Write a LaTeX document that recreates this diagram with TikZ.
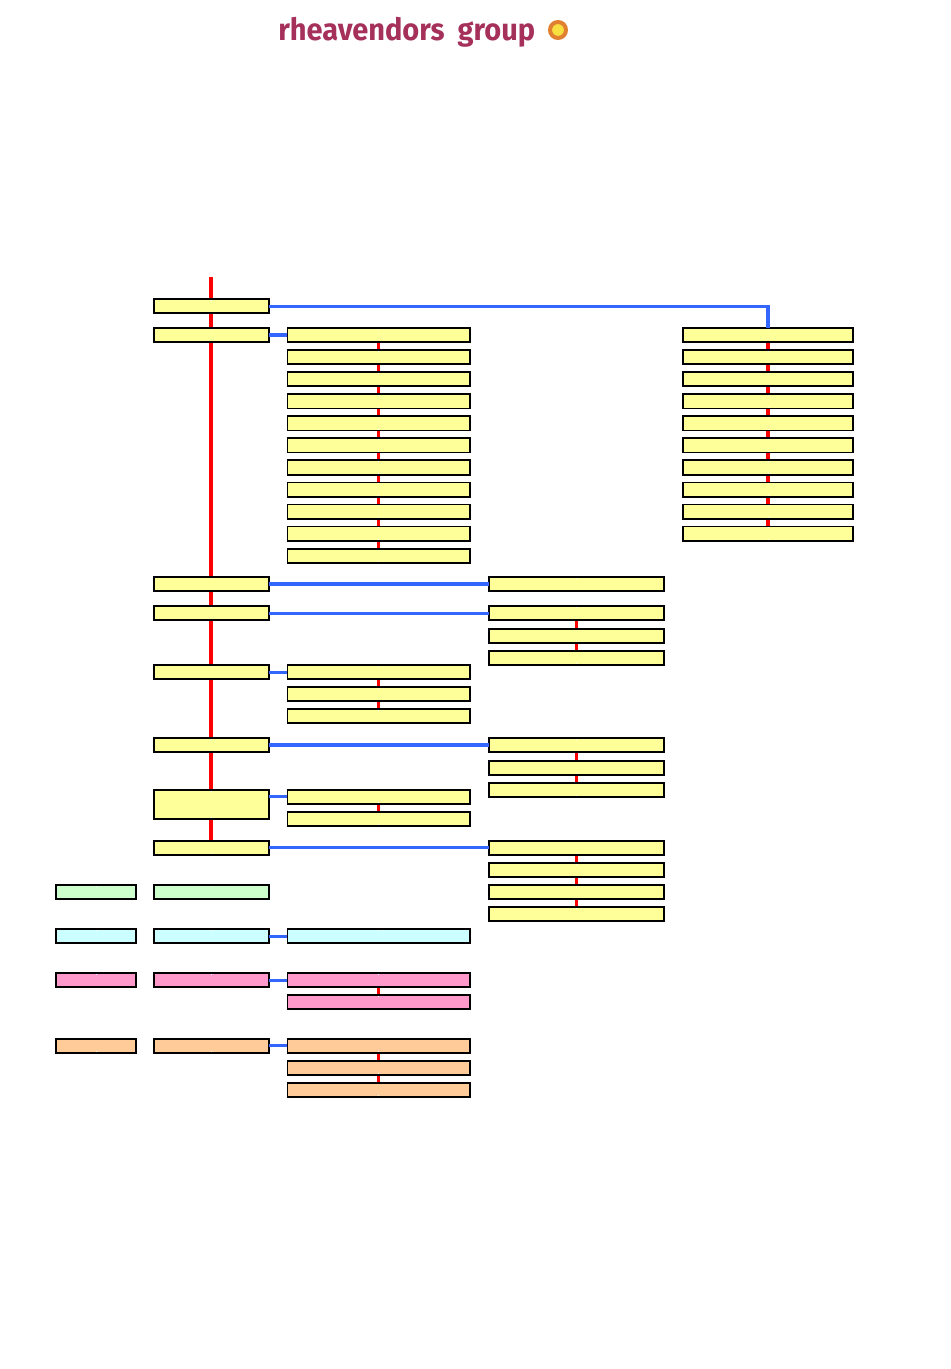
\documentclass[tikz,border=0pt]{standalone}
\usepackage{fontspec}
\setmainfont{Fira Sans}
\usetikzlibrary{backgrounds}
\definecolor{boxy}{HTML}{FFFF99}
\definecolor{boxg}{HTML}{CCFFCC}
\definecolor{boxc}{HTML}{CCFFFF}
\definecolor{boxp}{HTML}{FF99CC}
\definecolor{boxo}{HTML}{FFCC99}
\definecolor{linkblue}{HTML}{3366FF}
\definecolor{logored}{HTML}{A5305A}
\definecolor{ringo}{HTML}{E08030}
\definecolor{ringy}{HTML}{F8E040}
\tikzset{
  x=0.75pt,y=-0.75pt,
  box/.style={draw=black,line width=1.4pt,inner sep=0pt,outer sep=0pt,minimum height=10.65pt,
    path picture={\draw[white,line width=0.6pt]
      (path picture bounding box.north) -- ++(0,-1.2pt)
      (path picture bounding box.south) -- ++(0,1.2pt);}},
  colA/.style={box,minimum width=85.9pt},
  colB/.style={box,minimum width=136.9pt},
  colC/.style={box,minimum width=130.9pt},
  colD/.style={box,minimum width=127.5pt},
  colL/.style={box,minimum width=60pt},
  trunk/.style={draw=red,line width=3pt},
  twig/.style={draw=red,line width=2.6pt},
  link/.style={draw=linkblue,line width=2.2pt},
  linkthick/.style={draw=linkblue,line width=2.8pt},
}
\begin{document}
\begin{tikzpicture}
\useasboundingbox (0,0) rectangle (950,1369);
% logo
\node[inner sep=0pt,anchor=base west,text=logored,font=\bfseries\fontsize{23}{23}\selectfont,xscale=0.945] (logo) at (278,41) {rheavendors\hspace{4.8pt} group};
\node[circle,draw=ringo,fill=ringy,line width=3pt,minimum size=12pt,inner sep=0pt] (sun) at (558,30) {};
% column A
\foreach \n/\y in {a1/306.2,a2/335.2,a3/584.2,a4/613.2,a5/672.2,a6/745.2,a8/847.7}
  \node[colA,fill=boxy] (\n) at (211.3,\y) {};
\node[colA,fill=boxy,minimum height=21.4pt] (a7) at (211.3,804.3) {};
\node[colA,fill=boxg] (a9) at (211.3,892.2) {};
\node[colA,fill=boxc] (a10) at (211.3,936.2) {};
\node[colA,fill=boxp] (a11) at (211.3,980.2) {};
\node[colA,fill=boxo] (a12) at (211.3,1045.7) {};
% left column
\node[colL,fill=boxg] (l1) at (96,892.2) {};
\node[colL,fill=boxc] (l2) at (96,936.2) {};
\node[colL,fill=boxp] (l3) at (96,980.2) {};
\node[colL,fill=boxo] (l4) at (96,1045.7) {};
% column B
\foreach \i in {0,...,10} \node[colB,fill=boxy] (b\i) at (378.7,335.2+22.05*\i) {};
\node[colB,fill=boxy] (b11) at (378.7,672.2) {};
\node[colB,fill=boxy] (b12) at (378.7,694.2) {};
\node[colB,fill=boxy] (b13) at (378.7,716.2) {};
\node[colB,fill=boxy] (b14) at (378.7,796.7) {};
\node[colB,fill=boxy] (b15) at (378.7,818.7) {};
\node[colB,fill=boxc] (b16) at (378.7,936.2) {};
\node[colB,fill=boxp] (b17) at (378.7,980.2) {};
\node[colB,fill=boxp] (b18) at (378.7,1002.2) {};
\node[colB,fill=boxo] (b19) at (378.7,1045.7) {};
\node[colB,fill=boxo] (b20) at (378.7,1067.7) {};
\node[colB,fill=boxo] (b21) at (378.7,1089.7) {};
% column C
\foreach \n/\y in {c1/584.2,c2/613.2,c3/635.7,c4/657.7,c5/745.2,c6/767.7,c7/789.7,c8/847.7,c9/870.2,c10/892.2,c11/914.2}
  \node[colC,fill=boxy] (\n) at (576.5,\y) {};
% column D
\foreach \i in {0,...,9} \node[colD,fill=boxy] (d\i) at (768,335.2+22.05*\i) {};
\coordinate (top) at (211.3,277);
\begin{scope}[on background layer]
  % main red line
  \draw[trunk] (top) -- (a1);
  \foreach \p/\q in {a1/a2,a2/a3,a3/a4,a4/a5,a5/a6,a6/a7,a7/a8} \draw[trunk] (\p) -- (\q);
  % short red links
  \foreach \i [evaluate=\i as \j using int(\i+1)] in {0,...,9} {
    \draw[twig] (b\i) -- (b\j);
  }
  \foreach \i [evaluate=\i as \j using int(\i+1)] in {0,...,8} {
    \draw[twig] (d\i) -- (d\j);
  }
  \foreach \p/\q in {b11/b12,b12/b13,b14/b15,b17/b18,b19/b20,b20/b21,c2/c3,c3/c4,c5/c6,c6/c7,c8/c9,c9/c10,c10/c11}
    \draw[twig] (\p) -- (\q);
\end{scope}
% blue links
\draw[link,line width=2.5pt] (a1.east) -| (d0.north);
\draw[linkthick] (a2.east) -- (b0.west);
\draw[linkthick] (a3.east) -- (c1.west);
\draw[link] (a4.east) -- (c2.west);
\draw[link] (a5.east) -- (b11.west);
\draw[linkthick] (a6.east) -- (c5.west);
\draw[link] (a7.east |- b14.west) -- (b14.west);
\draw[link] (a8.east) -- (c8.west);
\draw[link] (a10.east) -- (b16.west);
\draw[link] (a11.east) -- (b17.west);
\draw[link] (a12.east) -- (b19.west);
\end{tikzpicture}
\end{document}
